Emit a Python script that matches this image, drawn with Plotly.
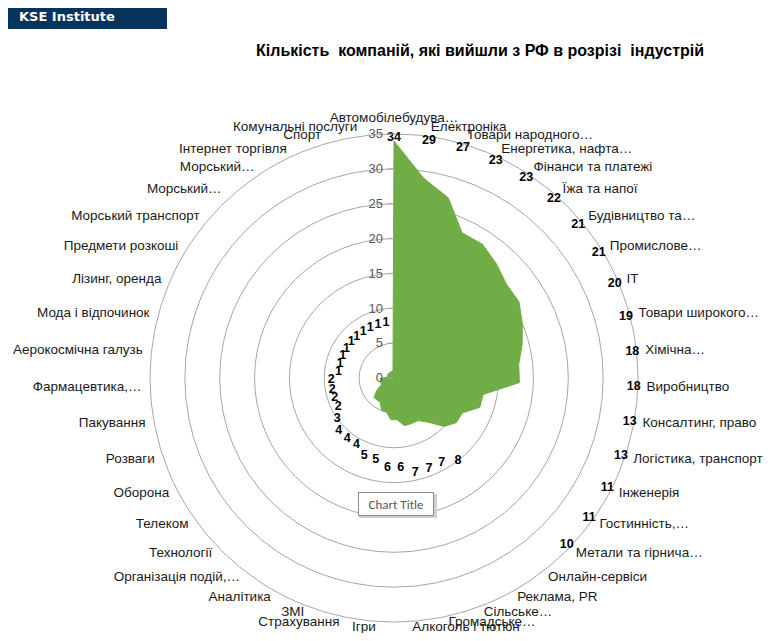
import math
import plotly.graph_objects as go

categories = [
    "Автомобілебудува…", "Електроніка", "Товари народного…", "Енергетика, нафта…",
    "Фінанси та платежі", "Їжа та напої", "Будівництво та…", "Промислове…", "IT",
    "Товари широкого…", "Хімічна…", "Виробництво", "Консалтинг, право",
    "Логістика, транспорт", "Інженерія", "Гостинність,…", "Метали та гірнича…",
    "Онлайн-сервіси", "Реклама, PR", "Сільське…", "Громадське…", "Алкоголь і тютюн",
    "Ігри", "Страхування", "ЗМІ", "Аналітика", "Організація подій,…", "Технології",
    "Телеком", "Оборона", "Розваги", "Пакування", "Фармацевтика,…",
    "Аерокосмічна галузь", "Мода і відпочинок", "Лізинг, оренда", "Предмети розкоші",
    "Морський транспорт", "Морський… ", "Морський…", "Інтернет торгівля", "Спорт",
    "Комунальні послуги",
]
values = [34, 29, 27, 23, 23, 22, 21, 21, 20, 19, 18, 18, 13, 13, 11, 11, 10,
          8, 7, 7, 7, 6, 6, 5, 5, 4, 4, 4, 3, 2, 2, 2, 2,
          1, 1, 1, 1, 1, 1, 1, 1, 1, 1]
radial_ticks = [0, 5, 10, 15, 20, 25, 30, 35]

title_text = "Кількість\u00a0\u00a0компаній, які вийшли з РФ в розрізі\u00a0\u00a0індустрій"

# the page body adds an 8px margin; work in window pixels and convert
OFF = 8
W, H = 781 - 2 * OFF, 641 - 2 * OFF


def px(x):
    return (x - OFF) / W


def py(y):
    return 1 - (y - OFF) / H


cx, cy, R35 = 394, 378, 244
RMAX = 35
RPLOT = 36.3                     # range extends a bit so category labels stay inside
R = R35 * RPLOT / RMAX

# value-label radii: big values sit near the outer ring, small ones just outside their point
label_r = [34.4 if v >= 10 else v + 7 for v in values]

# category-label placement just outside the outer ring
n = len(categories)
cat_r = []
cat_pos = []
for i in range(n):
    a = i * 360.0 / n
    # labels right at the bottom hug the ring a little closer
    lift = 0.35 * max(0.0, -math.cos(math.radians(a))) ** 6
    cat_r.append(RPLOT - 0.05 - lift)
    if a < 4 or a > 356:
        cat_pos.append("top center")
    elif a <= 180:
        cat_pos.append("middle right")
    else:
        cat_pos.append("middle left")

fig = go.Figure()
fig.add_trace(go.Scatterpolar(
    r=values + [values[0]], theta=categories + [categories[0]],
    mode="lines", fill="toself", fillcolor="#70AD47",
    line=dict(color="#70AD47", width=1), hoverinfo="skip", showlegend=False,
))
fig.add_trace(go.Scatterpolar(
    r=label_r, theta=categories, mode="text",
    text=[f"<b>{v}</b>" for v in values], textposition="middle center",
    textfont=dict(family="Arial, Liberation Sans", size=12.5, color="#000000"),
    hoverinfo="skip", showlegend=False, cliponaxis=False,
))
fig.add_trace(go.Scatterpolar(
    r=cat_r, theta=categories, mode="text",
    text=categories, textposition=cat_pos,
    textfont=dict(family="Arial, Liberation Sans", size=13.5, color="#1a1a1a"),
    hoverinfo="skip", showlegend=False, cliponaxis=False,
))

fig.update_layout(
    width=W, height=H,
    margin=dict(l=0, r=0, t=0, b=0),
    paper_bgcolor="white", plot_bgcolor="white",
    showlegend=False,
    polar=dict(
        domain=dict(x=[px(cx - R), px(cx + R)], y=[py(cy + R), py(cy - R)]),
        bgcolor="rgba(0,0,0,0)",
        gridshape="circular",
        radialaxis=dict(
            range=[0, RPLOT], tickvals=radial_ticks, ticktext=[str(t) for t in radial_ticks],
            angle=90, side="counterclockwise", showline=False,
            ticks="outside", ticklen=6, tickcolor="#a6a6a6",
            gridcolor="#a6a6a6", gridwidth=1,
            tickfont=dict(family="Arial, Liberation Sans", size=13, color="#595959"),
            tickangle=90,
        ),
        angularaxis=dict(
            type="category", categoryarray=categories, direction="clockwise", rotation=90,
            showgrid=False, showline=False,
            ticks="", showticklabels=False,
        ),
    ),
    shapes=[
        dict(type="rect", xref="paper", yref="paper",
             x0=px(8), x1=px(167), y0=py(29), y1=1,
             fillcolor="#08335b", line=dict(width=0), layer="above"),
        dict(type="rect", xref="paper", yref="paper",
             x0=px(359), x1=px(437), y0=py(518), y1=py(494),
             fillcolor="#d0d0d0", line=dict(width=0), layer="above"),
    ],
    annotations=[
        dict(text="<b>KSE Institute</b>", x=px(17), y=py(17), xref="paper", yref="paper",
             xanchor="left", yanchor="middle", showarrow=False,
             font=dict(family="Verdana, DejaVu Sans", size=13, color="white")),
        dict(text=f"<b>{title_text}</b>", x=px(480), y=py(51), xref="paper", yref="paper",
             xanchor="center", yanchor="middle", showarrow=False,
             font=dict(family="Arial, Liberation Sans", size=16, color="#000000")),
        dict(text="Chart Title", x=px(396), y=py(504), xref="paper", yref="paper",
             xanchor="center", yanchor="middle", showarrow=False,
             width=70, height=18,
             bgcolor="white", bordercolor="#8c8c8c", borderwidth=1, borderpad=2,
             font=dict(family="Calibri, Carlito, Liberation Sans", size=13, color="#595959")),
    ],
)

fig.write_html("out.html")
